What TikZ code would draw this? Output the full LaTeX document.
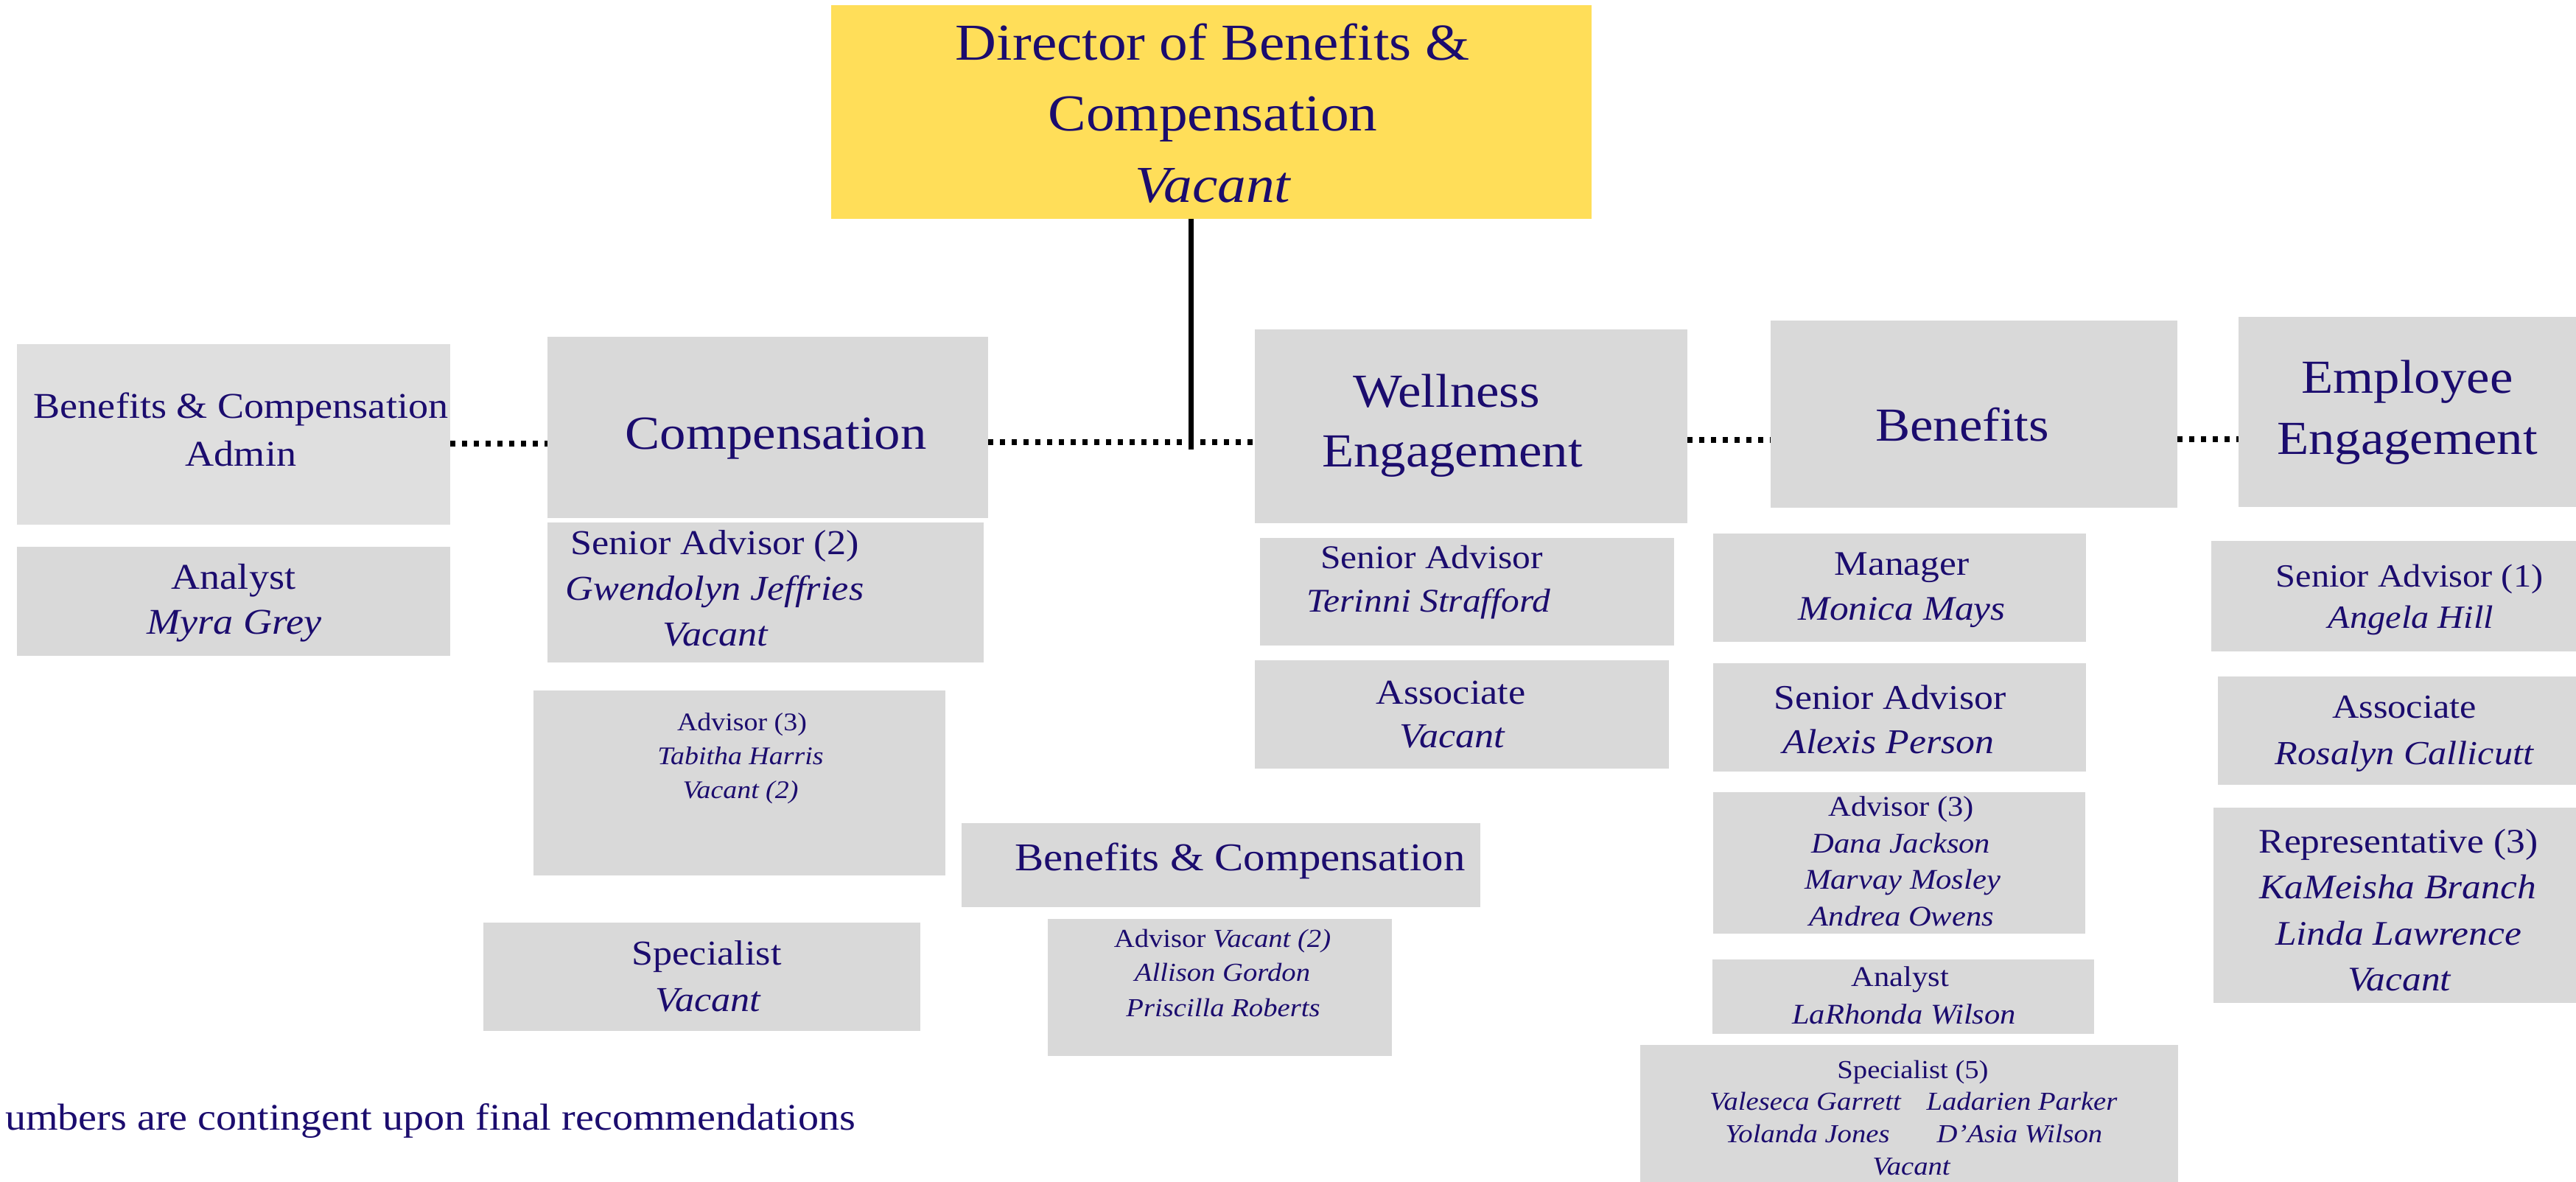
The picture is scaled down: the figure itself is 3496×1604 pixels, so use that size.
\documentclass[tikz,border=0pt]{standalone}
\usepackage{fontspec}
\setmainfont{Liberation Serif}[FakeStretch=1.1]
\usetikzlibrary{fit}
\definecolor{navy}{RGB}{27,12,110}
\definecolor{boxgray}{HTML}{D9D9D9}
\definecolor{admingray}{HTML}{DFDFDF}
\definecolor{diryellow}{HTML}{FFDE59}
\begin{document}
\begin{tikzpicture}[x=0.01cm,y=-0.01cm,
  box/.style={fill=boxgray, draw=none, inner sep=0pt, outer sep=0pt},
  dirbox/.style={box, fill=diryellow},
  adminbox/.style={box, fill=admingray},
  tx/.style={text=navy, inner sep=0pt, anchor=base},
  fs/.style={font=\fontsize{#1}{#1}\selectfont},
  dotline/.style={line width=2.2pt, dash pattern=on 2pt off 2.55pt},
  solidline/.style={line width=2pt}]
\useasboundingbox (0,0) rectangle (3496,1604);
\fill[white] (0,0) rectangle (3496,1604);

% ---- boxes ----
\node[dirbox, fit={(1128,7) (2160,297)}] (dir) {};
\node[adminbox, fit={(23,467) (611,712)}] (admin) {};
\node[box, fit={(23,742) (611,890)}] (anal) {};
\node[box, fit={(743,457) (1341,703)}] (comp) {};
\node[box, fit={(743,709) (1335,899)}] (csa) {};
\node[box, fit={(724,937) (1283,1188)}] (cadv) {};
\node[box, fit={(656,1252) (1249,1399)}] (cspec) {};
\node[box, fit={(1305,1117) (2009,1231)}] (bc) {};
\node[box, fit={(1422,1247) (1889,1433)}] (bcadv) {};
\node[box, fit={(1703,447) (2290,710)}] (well) {};
\node[box, fit={(1710,730) (2272,876)}] (wsa) {};
\node[box, fit={(1703,896) (2265,1043)}] (wass) {};
\node[box, fit={(2403,435) (2955,689)}] (ben) {};
\node[box, fit={(2325,724) (2831,871)}] (bman) {};
\node[box, fit={(2325,900) (2831,1047)}] (bsa) {};
\node[box, fit={(2325,1075) (2830,1267)}] (badv) {};
\node[box, fit={(2324,1302) (2842,1403)}] (bana) {};
\node[box, fit={(2226,1418) (2956,1604)}] (bspec) {};
\node[box, fit={(3038,430) (3496,688)}] (ee) {};
\node[box, fit={(3001,734) (3496,884)}] (esa) {};
\node[box, fit={(3010,918) (3496,1065)}] (eass) {};
\node[box, fit={(3004,1096) (3496,1361)}] (erep) {};

% ---- connectors ----
\coordinate (junction) at (1616,610);
\coordinate (hlA) at (0,602);
\coordinate (hlB) at (0,600);
\coordinate (hlC) at (0,597);
\coordinate (hlD) at (0,596);
\draw[solidline] (dir.south -| junction) -- (junction);
\draw[dotline] (admin.east |- hlA) -- (comp.west |- hlA);
\draw[dotline] (comp.east |- hlB) -- (well.west |- hlB);
\draw[dotline] (well.east |- hlC) -- (ben.west |- hlC);
\draw[dotline] (ben.east |- hlD) -- (ee.west |- hlD);

% ---- director ----
\node[tx, fs=20] (dir1) at (1646,82) {Director of Benefits \&};
\node[tx, fs=20] (dir2) at (1646,178) {Compensation};
\node[tx, fs=20] (dir3) at (1646,275) {\itshape Vacant};

% ---- left column ----
\node[tx, fs=14] (admin1) at (327,568) {Benefits \& Compensation};
\node[tx, fs=14] (admin2) at (327,633) {Admin};
\node[tx, fs=14] (anal1) at (317,800) {Analyst};
\node[tx, fs=14] (anal2) at (318,861) {\itshape Myra Grey};

% ---- compensation ----
\node[tx, fs=18.3] (comp1) at (1053,610) {Compensation};
\node[tx, fs=13.5] (csa1) at (970,753) {Senior Advisor (2)};
\node[tx, fs=13.5] (csa2) at (970,815) {\itshape Gwendolyn Jeffries};
\node[tx, fs=13.5] (csa3) at (971,877) {\itshape Vacant};
\node[tx, fs=9.8] (cadv1) at (1007,992) {Advisor (3)};
\node[tx, fs=9.8] (cadv2) at (1005,1038) {\itshape Tabitha Harris};
\node[tx, fs=9.8] (cadv3) at (1005,1084) {\itshape Vacant (2)};
\node[tx, fs=13.5] (cspec1) at (959,1310) {Specialist};
\node[tx, fs=13.5] (cspec2) at (961,1372) {\itshape Vacant};

% ---- benefits & compensation ----
\node[tx, fs=15.2] (bc1) at (1683,1182) {Benefits \& Compensation};
\node[tx, fs=10] (bcadv1) at (1659,1285) {Advisor {\itshape Vacant (2)}};
\node[tx, fs=10] (bcadv2) at (1659,1331) {\itshape Allison Gordon};
\node[tx, fs=10] (bcadv3) at (1660,1379) {\itshape Priscilla Roberts};

% ---- wellness ----
\node[tx, fs=18.3] (well1) at (1963,553) {Wellness};
\node[tx, fs=18.3] (well2) at (1971,634) {Engagement};
\node[tx, fs=12.8] (wsa1) at (1943,772) {Senior Advisor};
\node[tx, fs=12.8] (wsa2) at (1939,831) {\itshape Terinni Strafford};
\node[tx, fs=13.5] (wass1) at (1969,956) {Associate};
\node[tx, fs=13.5] (wass2) at (1971,1015) {\itshape Vacant};

% ---- benefits ----
\node[tx, fs=18.3] (ben1) at (2663,599) {Benefits};
\node[tx, fs=13.3] (bman1) at (2581,781) {Manager};
\node[tx, fs=13.3] (bman2) at (2581,842) {\itshape Monica Mays};
\node[tx, fs=13.4] (bsa1) at (2565,963) {Senior Advisor};
\node[tx, fs=13.4] (bsa2) at (2563,1023) {\itshape Alexis Person};
\node[tx, fs=11] (badv1) at (2580,1108) {Advisor (3)};
\node[tx, fs=11] (badv2) at (2580,1158) {\itshape Dana Jackson};
\node[tx, fs=11] (badv3) at (2582,1207) {\itshape Marvay Mosley};
\node[tx, fs=11] (badv4) at (2581,1257) {\itshape Andrea Owens};
\node[tx, fs=11] (bana1) at (2579,1338) {Analyst};
\node[tx, fs=11] (bana2) at (2584,1389) {\itshape LaRhonda Wilson};
\node[tx, fs=10] (bspec1) at (2596,1463) {Specialist (5)};
\node[tx, fs=10] (bspec2) at (2450,1506) {\itshape Valeseca Garrett};
\node[tx, fs=10] (bspec3) at (2744,1506) {\itshape Ladarien Parker};
\node[tx, fs=10] (bspec4) at (2453,1550) {\itshape Yolanda Jones};
\node[tx, fs=10] (bspec5) at (2741,1550) {\itshape D’Asia Wilson};
\node[tx, fs=10] (bspec6) at (2594,1594) {\itshape Vacant};

% ---- employee engagement ----
\node[tx, fs=18.3] (ee1) at (3267,534) {Employee};
\node[tx, fs=18.3] (ee2) at (3267,617) {Engagement};
\node[tx, fs=12.5] (esa1) at (3270,797) {Senior Advisor (1)};
\node[tx, fs=12.5] (esa2) at (3272,853) {\itshape Angela Hill};
\node[tx, fs=13] (eass1) at (3263,975) {Associate};
\node[tx, fs=13] (eass2) at (3263,1038) {\itshape Rosalyn Callicutt};
\node[tx, fs=13.3] (erep1) at (3255,1158) {Representative (3)};
\node[tx, fs=13.3] (erep2) at (3254,1220) {\itshape KaMeisha Branch};
\node[tx, fs=13.3] (erep3) at (3255,1282) {\itshape Linda Lawrence};
\node[tx, fs=13.3] (erep4) at (3256,1344) {\itshape Vacant};

% ---- footnote ----
\node[tx, fs=14.5, anchor=base east] (note) at (1162,1533) {umbers are contingent upon final recommendations};
\end{tikzpicture}
\end{document}
